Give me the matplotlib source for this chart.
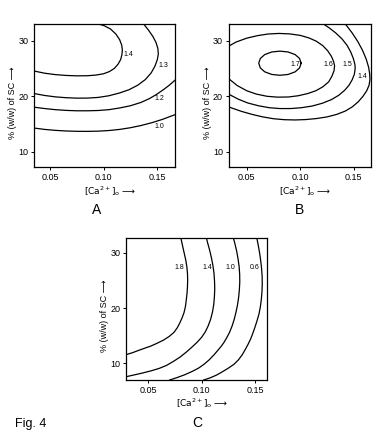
import matplotlib
matplotlib.use("Agg")
import matplotlib.pyplot as plt

plt.rcParams["font.family"] = ["Liberation Sans", "DejaVu Sans"]
plt.rcParams["mathtext.fontset"] = "dejavusans"

# axis ticks shared by the three panels
X_TICKS = [0.05, 0.10, 0.15]
X_TICK_LABELS = ["0.05", "0.10", "0.15"]
Y_TICKS = [10, 20, 30]
Y_TICK_LABELS = ["10", "20", "30"]

# ---- panel A: contour lines
A_14_X = [0.035, 0.045, 0.055, 0.065, 0.075, 0.085, 0.093, 0.100, 0.1055, 0.110, 0.1135,
          0.116, 0.1172, 0.1176, 0.1170, 0.1150, 0.1115, 0.1065, 0.1005, 0.0950]
A_14_Y = [24.55, 24.15, 23.9, 23.75, 23.68, 23.7, 23.82, 24.05, 24.45, 25.0, 25.75,
          26.6, 27.5, 28.3, 29.2, 30.2, 31.2, 32.1, 32.7, 33.0]
A_13_X = [0.035, 0.045, 0.055, 0.065, 0.075, 0.085, 0.095, 0.105, 0.115, 0.124, 0.132,
          0.139, 0.1445, 0.148, 0.1503, 0.1512, 0.1508, 0.149, 0.146, 0.142, 0.1375]
A_13_Y = [20.5, 20.15, 19.9, 19.75, 19.67, 19.68, 19.8, 20.1, 20.6, 21.2, 22.0,
          23.0, 24.2, 25.4, 26.6, 27.6, 28.6, 29.7, 30.8, 31.9, 33.0]
A_12_X = [0.035, 0.045, 0.055, 0.065, 0.075, 0.085, 0.095, 0.105, 0.115, 0.125, 0.135,
          0.143, 0.150, 0.156, 0.1615, 0.1668]
A_12_Y = [18.05, 17.8, 17.6, 17.47, 17.4, 17.4, 17.45, 17.6, 17.9, 18.3, 18.9,
          19.6, 20.4, 21.2, 22.0, 22.9]
A_10_X = [0.035, 0.045, 0.055, 0.065, 0.075, 0.085, 0.095, 0.105, 0.115, 0.125, 0.135,
          0.145, 0.155, 0.1668]
A_10_Y = [14.3, 14.05, 13.88, 13.77, 13.71, 13.7, 13.74, 13.85, 14.05, 14.35, 14.75,
          15.25, 15.85, 16.7]
A_LEVELS = ["1.4", "1.3", "1.2", "1.0"]
A_LABEL_X = [0.1235, 0.1560, 0.1520, 0.1520]
A_LABEL_Y = [27.5, 25.6, 19.6, 14.5]

# ---- panel B
B_17_X = [0.1008, 0.0993, 0.0952, 0.0886, 0.081, 0.0734, 0.0668, 0.0627, 0.0612,
          0.0627, 0.0668, 0.0734, 0.081, 0.0886, 0.0952, 0.0993, 0.1008]
B_17_Y = [25.95, 26.8, 27.5, 27.97, 28.12, 27.97, 27.5, 26.8, 25.95,
          25.1, 24.4, 23.93, 23.78, 23.93, 24.4, 25.1, 25.95]
B_16_X = [0.033, 0.040, 0.050, 0.060, 0.070, 0.080, 0.090, 0.100, 0.108, 0.115, 0.121,
          0.1255, 0.129, 0.131, 0.132, 0.1315, 0.1295, 0.1265, 0.121, 0.1145, 0.107,
          0.098, 0.089, 0.079, 0.069, 0.059, 0.050, 0.041, 0.033]
B_16_Y = [29.0, 29.75, 30.45, 30.9, 31.2, 31.3, 31.22, 30.95, 30.5, 29.9, 29.1,
          28.2, 27.2, 26.3, 25.5, 24.6, 23.6, 22.6, 21.7, 21.0, 20.5,
          20.1, 19.88, 19.85, 20.0, 20.4, 21.0, 21.95, 23.2]
B_15_X = [0.1215, 0.127, 0.133, 0.139, 0.1435, 0.147, 0.1495, 0.151, 0.1512, 0.1505,
          0.1485, 0.1455, 0.1415, 0.136, 0.129, 0.1205, 0.111, 0.101, 0.091, 0.081,
          0.071, 0.061, 0.051, 0.042, 0.033]
B_15_Y = [33.0, 32.3, 31.4, 30.3, 29.2, 28.0, 26.8, 25.7, 25.0, 24.0,
          23.0, 22.0, 21.1, 20.2, 19.4, 18.75, 18.25, 17.95, 17.8, 17.8,
          17.95, 18.3, 18.8, 19.5, 20.4]
B_14_X = [0.142, 0.148, 0.1535, 0.158, 0.1615, 0.1638, 0.1648, 0.1650, 0.1642, 0.1620,
          0.1585, 0.154, 0.1485, 0.142, 0.134, 0.125, 0.115, 0.105, 0.095, 0.085,
          0.075, 0.065, 0.055, 0.045, 0.033]
B_14_Y = [33.0, 31.5, 29.9, 28.3, 26.7, 25.2, 24.0, 23.0, 22.0, 21.0,
          20.0, 19.0, 18.1, 17.35, 16.75, 16.3, 16.0, 15.82, 15.75, 15.8,
          15.97, 16.3, 16.75, 17.3, 18.1]
B_LEVELS = ["1.7", "1.6", "1.5", "1.4"]
B_LABEL_X = [0.0955, 0.1258, 0.1437, 0.1578]
B_LABEL_Y = [25.8, 25.8, 25.8, 23.5]

# ---- panel C
C_18_X = [0.0291, 0.035, 0.0413, 0.047, 0.0522, 0.058, 0.0641, 0.0695, 0.0741, 0.0772,
          0.0795, 0.0817, 0.0835, 0.0848, 0.0856, 0.0863, 0.0867, 0.0869, 0.0867, 0.0861,
          0.0851, 0.0837, 0.0822, 0.0805]
C_18_Y = [11.55, 11.9, 12.36, 12.75, 13.1, 13.6, 14.18, 14.85, 15.6, 16.45,
          17.3, 18.25, 19.2, 20.3, 21.5, 22.7, 23.9, 25.1, 26.3, 27.5,
          28.7, 29.9, 31.2, 32.7]
C_14_X = [0.0291, 0.036, 0.044, 0.0522, 0.060, 0.067, 0.0741, 0.080, 0.0855, 0.0905, 0.0955,
          0.100, 0.1035, 0.1062, 0.1085, 0.1102, 0.1114, 0.1120, 0.1123, 0.1121, 0.1116,
          0.1106, 0.1092, 0.1075, 0.1055, 0.1045]
C_14_Y = [7.55, 7.85, 8.2, 8.6, 9.05, 9.6, 10.4, 11.15, 12.0, 12.85, 13.75,
          14.7, 15.7, 16.8, 18.0, 19.3, 20.7, 22.1, 23.5, 24.9, 26.3,
          27.7, 29.1, 30.5, 31.9, 32.7]
C_10_X = [0.0700, 0.077, 0.084, 0.091, 0.097, 0.1022, 0.107, 0.1115, 0.1155, 0.1185, 0.1209,
          0.1235, 0.1262, 0.1285, 0.1305, 0.1322, 0.1336, 0.1347, 0.1354, 0.1358, 0.1357,
          0.1352, 0.1342, 0.1329, 0.1312, 0.1298]
C_10_Y = [6.96, 7.4, 7.9, 8.5, 9.1, 9.8, 10.6, 11.5, 12.4, 13.1, 13.75,
          14.6, 15.6, 16.7, 17.9, 19.2, 20.5, 21.9, 23.3, 24.7, 26.1,
          27.5, 28.9, 30.3, 31.7, 32.7]
C_06_X = [0.1020, 0.108, 0.114, 0.1195, 0.125, 0.1303, 0.1345, 0.138, 0.141, 0.1435, 0.146,
          0.148, 0.150, 0.152, 0.1538, 0.1551, 0.156, 0.1566, 0.1569, 0.1568, 0.1563,
          0.1555, 0.1545, 0.1532, 0.1518]
C_06_Y = [6.96, 7.35, 7.85, 8.45, 9.1, 9.8, 10.6, 11.5, 12.5, 13.4, 14.4,
          15.4, 16.5, 17.7, 18.9, 20.2, 21.5, 22.9, 24.3, 25.7, 27.1,
          28.5, 29.9, 31.3, 32.7]
C_LEVELS = ["1.8", "1.4", "1.0", "0.6"]
C_LABEL_X = [0.0790, 0.1055, 0.1268, 0.1497]
C_LABEL_Y = [27.3, 27.3, 27.3, 27.3]

XLABEL = r"[Ca$^{2+}$]$_{\rm o}$ ⟶"
YLABEL = "% (w/w) of SC ⟶"

fig = plt.figure(figsize=(3.74, 4.40), dpi=100)


def panel(rect, xlim, ylim, curves, levels, lx, ly, letter_pos, letter):
    ax = fig.add_axes(rect)
    for xs, ys in curves:
        ax.plot(xs, ys, color="black", lw=0.9, solid_joinstyle="round")
    for t, x, y in zip(levels, lx, ly):
        ax.text(x, y, t, fontsize=5, ha="center", va="center")
    ax.set_xlim(*xlim)
    ax.set_ylim(*ylim)
    ax.set_xticks(X_TICKS, X_TICK_LABELS)
    ax.set_yticks(Y_TICKS, Y_TICK_LABELS)
    ax.tick_params(direction="out", length=2.5, width=0.7, labelsize=6.5, pad=1.5)
    for s in ax.spines.values():
        s.set_linewidth(0.9)
    ax.text(0.54, -0.165, XLABEL, transform=ax.transAxes, ha="center", va="center",
            fontsize=6.5, family="DejaVu Sans")
    ax.text(-0.15, 0.45, YLABEL, transform=ax.transAxes, ha="center", va="center",
            rotation=90, fontsize=6.5)
    fig.text(*letter_pos, letter, ha="center", va="center", fontsize=10)
    return ax


panel([0.0909, 0.6205, 0.377, 0.325], (0.035, 0.1668), (7.3, 33.0),
      [(A_14_X, A_14_Y), (A_13_X, A_13_Y), (A_12_X, A_12_Y), (A_10_X, A_10_Y)],
      A_LEVELS, A_LABEL_X, A_LABEL_Y, (0.2585, 0.5227), "A")
panel([0.611, 0.6205, 0.381, 0.325], (0.033, 0.166), (7.3, 33.0),
      [(B_17_X, B_17_Y), (B_16_X, B_16_Y), (B_15_X, B_15_Y), (B_14_X, B_14_Y)],
      B_LEVELS, B_LABEL_X, B_LABEL_Y, (0.802, 0.5227), "B")
panel([0.3369, 0.1364, 0.376, 0.3227], (0.029, 0.161), (6.96, 32.7),
      [(C_18_X, C_18_Y), (C_14_X, C_14_Y), (C_10_X, C_10_Y), (C_06_X, C_06_Y)],
      C_LEVELS, C_LABEL_X, C_LABEL_Y, (0.527, 0.038), "C")

fig.text(0.083, 0.036, "Fig. 4", ha="center", va="center", fontsize=9)

fig.savefig("out.png", dpi=100)
